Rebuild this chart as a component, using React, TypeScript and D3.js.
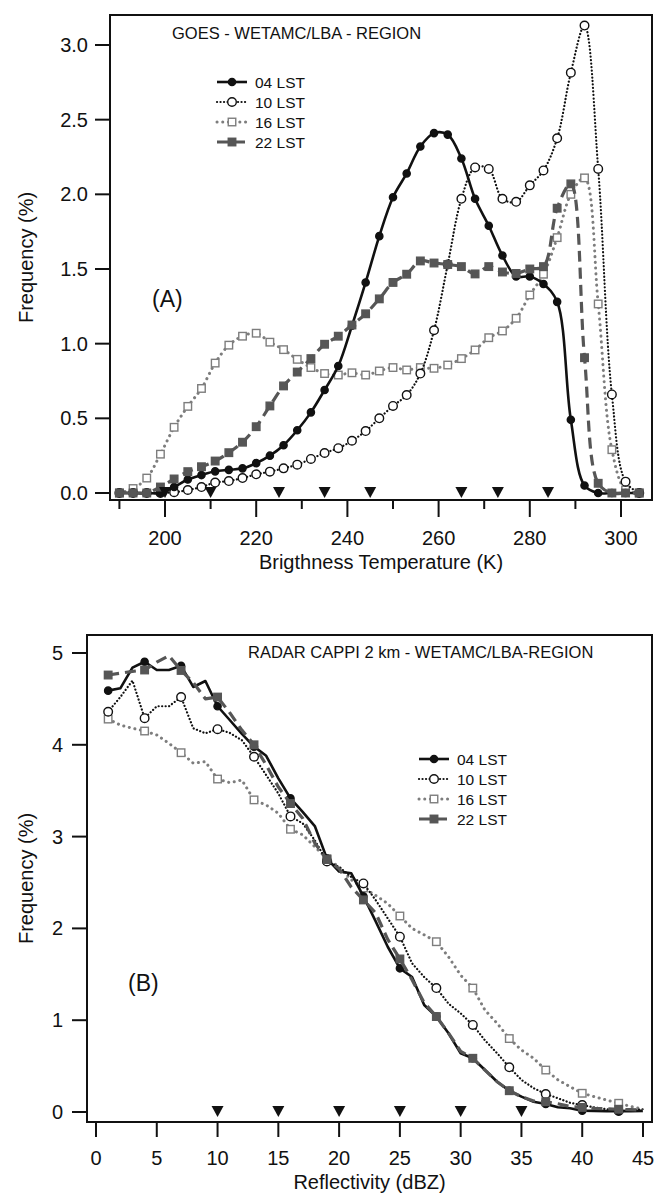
import React from "react";
import * as d3 from "d3";

// ---------- Panel A data: GOES brightness temperature ----------
const tempK = [190, 193, 196, 199, 202, 205, 208, 211, 214, 217, 220, 223, 226, 229, 232, 235, 238, 241, 244, 247, 250, 253, 256, 259, 262, 265, 268, 271, 274, 277, 280, 283, 286, 289, 292, 295, 298, 301, 304];
const lst04A = [0, 0, 0, 0, 0.04, 0.09, 0.12, 0.145, 0.155, 0.165, 0.2, 0.25, 0.32, 0.42, 0.54, 0.69, 0.85, 1.12, 1.41, 1.72, 1.98, 2.14, 2.32, 2.41, 2.4, 2.24, 1.97, 1.79, 1.59, 1.45, 1.45, 1.4, 1.28, 0.49, 0.05, 0, 0, 0, 0];
const lst10A = [0, 0, 0, 0, 0.005, 0.02, 0.04, 0.07, 0.08, 0.1, 0.125, 0.143, 0.165, 0.19, 0.228, 0.268, 0.3, 0.35, 0.415, 0.5, 0.583, 0.656, 0.8, 1.09, 1.53, 1.97, 2.18, 2.17, 1.97, 1.95, 2.06, 2.16, 2.375, 2.815, 3.13, 2.17, 0.66, 0.076, 0];
const lst16A = [0, 0.03, 0.1, 0.26, 0.44, 0.58, 0.7, 0.87, 0.99, 1.05, 1.07, 1.01, 0.96, 0.895, 0.84, 0.8, 0.79, 0.805, 0.79, 0.817, 0.84, 0.824, 0.84, 0.835, 0.857, 0.9, 0.958, 1.04, 1.085, 1.17, 1.326, 1.465, 1.71, 2.0, 2.11, 1.266, 0.29, 0.02, 0];
const lst22A = [0, 0, 0, 0.04, 0.094, 0.143, 0.176, 0.214, 0.27, 0.34, 0.444, 0.583, 0.717, 0.81, 0.9, 0.996, 1.05, 1.125, 1.2, 1.3, 1.41, 1.465, 1.554, 1.54, 1.53, 1.516, 1.467, 1.516, 1.48, 1.47, 1.5, 1.516, 1.907, 2.07, 0.906, 0.065, 0, 0, 0];
const trianglesA = [200, 210, 225, 235, 245, 265, 273, 284];
const yTicksA = [0, 0.5, 1, 1.5, 2, 2.5, 3];
const xMajorA = [200, 220, 240, 260, 280, 300];
const xMinorA = [190, 210, 230, 250, 270, 290];

// ---------- Panel B data: radar reflectivity ----------
const dbz = [1, 2, 3, 4, 5, 6, 7, 8, 9, 10, 11, 12, 13, 14, 15, 16, 17, 18, 19, 20, 21, 22, 23, 24, 25, 26, 27, 28, 29, 30, 31, 32, 33, 34, 35, 36, 37, 38, 39, 40, 41, 42, 43, 44, 45];
const markerDbz = [1, 4, 7, 10, 13, 16, 19, 22, 25, 28, 31, 34, 37, 40, 43];
const lst04B = [4.59, 4.615, 4.84, 4.905, 4.815, 4.815, 4.86, 4.63, 4.695, 4.42, 4.27, 4.12, 3.98, 3.88, 3.635, 3.417, 3.27, 3.115, 2.76, 2.62, 2.6, 2.35, 2.08, 1.8, 1.565, 1.47, 1.165, 1.04, 0.857, 0.64, 0.585, 0.457, 0.33, 0.232, 0.167, 0.112, 0.087, 0.051, 0.04, 0.014, 0.012, 0.01, 0.008, 0.01, 0.012];
const lst10B = [4.36, 4.52, 4.7, 4.29, 4.42, 4.42, 4.52, 4.18, 4.125, 4.17, 4.13, 4.05, 3.87, 3.67, 3.47, 3.22, 3.145, 2.96, 2.73, 2.67, 2.56, 2.49, 2.31, 2.11, 1.91, 1.62, 1.47, 1.35, 1.18, 1.075, 0.948, 0.78, 0.64, 0.487, 0.35, 0.26, 0.196, 0.15, 0.1, 0.076, 0.05, 0.03, 0.01, 0.02, 0.03];
const lst16B = [4.28, 4.215, 4.18, 4.15, 4.107, 4.016, 3.914, 3.8, 3.816, 3.627, 3.587, 3.616, 3.4, 3.344, 3.254, 3.08, 3.02, 2.89, 2.76, 2.67, 2.53, 2.44, 2.36, 2.27, 2.135, 2.0, 1.93, 1.855, 1.69, 1.49, 1.35, 1.11, 0.966, 0.8, 0.675, 0.585, 0.457, 0.35, 0.276, 0.204, 0.167, 0.13, 0.095, 0.06, 0.03];
const lst22B = [4.76, 4.78, 4.8, 4.815, 4.9, 4.97, 4.81, 4.68, 4.5, 4.52, 4.35, 4.16, 4.0, 3.78, 3.54, 3.36, 3.2, 2.93, 2.75, 2.65, 2.45, 2.31, 2.17, 1.88, 1.667, 1.44, 1.19, 1.04, 0.86, 0.66, 0.585, 0.457, 0.33, 0.232, 0.167, 0.12, 0.112, 0.09, 0.06, 0.05, 0.04, 0.035, 0.03, 0.025, 0.02];
const trianglesB = [10, 15, 20, 25, 30, 35];
const yTicksB = [0, 1, 2, 3, 4, 5];
const xTicksB = [0, 5, 10, 15, 20, 25, 30, 35, 40, 45];

const seriesNames = ["04 LST", "10 LST", "16 LST", "22 LST"];
const FONT = "'Liberation Sans', Arial, Helvetica, sans-serif";

type Sty = { stroke: string; width: number; dash?: string; cap: "butt" | "round"; marker: "circle" | "square"; fill: string; mstroke: string; size: number };
const STYLES: Sty[] = [
  { stroke: "#111", width: 2.6, cap: "butt", marker: "circle", fill: "#111", mstroke: "#111", size: 3.6 },
  { stroke: "#111", width: 2.2, dash: "0.1 3.4", cap: "round", marker: "circle", fill: "#fff", mstroke: "#111", size: 4.3 },
  { stroke: "#7d7d7d", width: 3, dash: "0.1 5.6", cap: "round", marker: "square", fill: "#fff", mstroke: "#7d7d7d", size: 7.5 },
  { stroke: "#565656", width: 3.2, dash: "11 6", cap: "butt", marker: "square", fill: "#565656", mstroke: "#565656", size: 7.5 },
];
const DRAW_ORDER = [2, 1, 0, 3];

function Marker({ x, y, s }: { x: number; y: number; s: Sty }) {
  if (s.marker === "circle") {
    return <circle cx={x} cy={y} r={s.size} fill={s.fill} stroke={s.mstroke} strokeWidth={1.4} />;
  }
  return <rect x={x - s.size / 2} y={y - s.size / 2} width={s.size} height={s.size} fill={s.fill} stroke={s.mstroke} strokeWidth={1.4} />;
}

function Legend({ x, y, gap }: { x: number; y: number; gap: number }) {
  return (
    <g>
      {seriesNames.map((name, i) => {
        const s = STYLES[i];
        const cy = y + i * gap;
        return (
          <g key={name}>
            <line x1={x} x2={x + 30} y1={cy} y2={cy} stroke={s.stroke} strokeWidth={s.width} strokeDasharray={s.dash} strokeLinecap={s.cap} />
            <Marker x={x + 15} y={cy} s={s} />
            <text x={x + 38} y={cy + 5.5} fontSize={15.5} fontFamily={FONT} fill="#111">{name}</text>
          </g>
        );
      })}
    </g>
  );
}

function triPath(x: number, y0: number) {
  return `M${x - 6},${y0 - 6}L${x + 6},${y0 - 6}L${x},${y0 + 5}Z`;
}

export default function App() {
  // ----- Panel A -----
  const axA = d3.scaleLinear().domain([200, 300]).range([165, 621]);
  const ayA = d3.scaleLinear().domain([0, 3]).range([493, 45]);
  const frameA = { l: 110, r: 652, t: 15, b: 500 };
  const seriesA = [lst04A, lst10A, lst16A, lst22A];
  const lineA = d3.line<number>().x((_, i) => axA(tempK[i])).y((d) => ayA(d)).curve(d3.curveCatmullRom.alpha(0.5));

  // ----- Panel B -----
  const axB = d3.scaleLinear().domain([0, 45]).range([96, 643]);
  const ayB = d3.scaleLinear().domain([0, 5]).range([1112, 653]);
  const frameB = { l: 87, r: 652, t: 635, b: 1122 };
  const seriesB = [lst04B, lst10B, lst16B, lst22B];
  const lineB = d3.line<number>().x((_, i) => axB(dbz[i])).y((d) => ayB(d));
  const fmtA = d3.format(".1f");

  return (
    <svg width={655} height={1194} style={{ position: "absolute", left: 0, top: 0, background: "#fff" }} fontFamily={FONT}>
      <rect x={0} y={0} width={655} height={1194} fill="#fff" />
      {/* ================= PANEL A ================= */}
      <g>
        {DRAW_ORDER.map((k) => {
          const s = STYLES[k];
          return (
            <g key={"a" + k}>
              <path d={lineA(seriesA[k]) || ""} fill="none" stroke={s.stroke} strokeWidth={s.width} strokeDasharray={s.dash} strokeLinecap={s.cap} strokeLinejoin="round" />
              {seriesA[k].map((v, i) => <Marker key={i} x={axA(tempK[i])} y={ayA(v)} s={s} />)}
            </g>
          );
        })}
        {trianglesA.map((t) => <path key={t} d={triPath(axA(t), ayA(0))} fill="#111" />)}
        <rect x={frameA.l} y={frameA.t} width={frameA.r - frameA.l} height={frameA.b - frameA.t} fill="none" stroke="#111" strokeWidth={2} />
        {yTicksA.map((t) => (
          <g key={t}>
            <line x1={95} x2={frameA.l} y1={ayA(t)} y2={ayA(t)} stroke="#111" strokeWidth={2} />
            <text x={88} y={ayA(t) + 7} textAnchor="end" fontSize={20} fill="#111">{fmtA(t)}</text>
          </g>
        ))}
        {xMajorA.map((t) => (
          <g key={t}>
            <line x1={axA(t)} x2={axA(t)} y1={frameA.b} y2={frameA.b + 17} stroke="#111" strokeWidth={2} />
            <text x={axA(t)} y={545} textAnchor="middle" fontSize={20} fill="#111">{t}</text>
          </g>
        ))}
        {xMinorA.map((t) => (
          <line key={t} x1={axA(t)} x2={axA(t)} y1={frameA.b} y2={frameA.b + 9} stroke="#111" strokeWidth={2} />
        ))}
        <text x={(frameA.l + frameA.r) / 2} y={569} textAnchor="middle" fontSize={20} fill="#111">Brigthness Temperature (K)</text>
        <text transform={`translate(33,${(frameA.t + frameA.b) / 2}) rotate(-90)`} textAnchor="middle" fontSize={20} fill="#111">Frequency (%)</text>
        <text x={172} y={39} fontSize={16.5} fill="#111">GOES - WETAMC/LBA - REGION</text>
        <text x={152} y={307} fontSize={23} fill="#111">(A)</text>
        <Legend x={217} y={82} gap={20} />
      </g>

      {/* ================= PANEL B ================= */}
      <g>
        {DRAW_ORDER.map((k) => {
          const s = STYLES[k];
          return (
            <g key={"b" + k}>
              <path d={lineB(seriesB[k]) || ""} fill="none" stroke={s.stroke} strokeWidth={s.width} strokeDasharray={s.dash} strokeLinecap={s.cap} strokeLinejoin="round" />
              {markerDbz.map((m) => {
                const i = dbz.indexOf(m);
                return <Marker key={m} x={axB(m)} y={ayB(seriesB[k][i])} s={s} />;
              })}
            </g>
          );
        })}
        {trianglesB.map((t) => <path key={t} d={triPath(axB(t), ayB(0))} fill="#111" />)}
        <rect x={frameB.l} y={frameB.t} width={frameB.r - frameB.l} height={frameB.b - frameB.t} fill="none" stroke="#111" strokeWidth={2} />
        {yTicksB.map((t) => (
          <g key={t}>
            <line x1={72} x2={frameB.l} y1={ayB(t)} y2={ayB(t)} stroke="#111" strokeWidth={2} />
            <text x={63} y={ayB(t) + 7} textAnchor="end" fontSize={20} fill="#111">{t}</text>
          </g>
        ))}
        {xTicksB.map((t) => (
          <g key={t}>
            <line x1={axB(t)} x2={axB(t)} y1={frameB.b} y2={frameB.b + 15} stroke="#111" strokeWidth={2} />
            <text x={axB(t)} y={1165} textAnchor="middle" fontSize={20} fill="#111">{t}</text>
          </g>
        ))}
        <text x={(frameB.l + frameB.r) / 2} y={1189} textAnchor="middle" fontSize={20} fill="#111">Reflectivity (dBZ)</text>
        <text transform={`translate(33,${(frameB.t + frameB.b) / 2}) rotate(-90)`} textAnchor="middle" fontSize={20} fill="#111">Frequency (%)</text>
        <text x={248} y={658} fontSize={16.5} fill="#111">RADAR CAPPI 2 km - WETAMC/LBA-REGION</text>
        <text x={128} y={991} fontSize={23} fill="#111">(B)</text>
        <Legend x={419} y={759} gap={20} />
      </g>
    </svg>
  );
}
